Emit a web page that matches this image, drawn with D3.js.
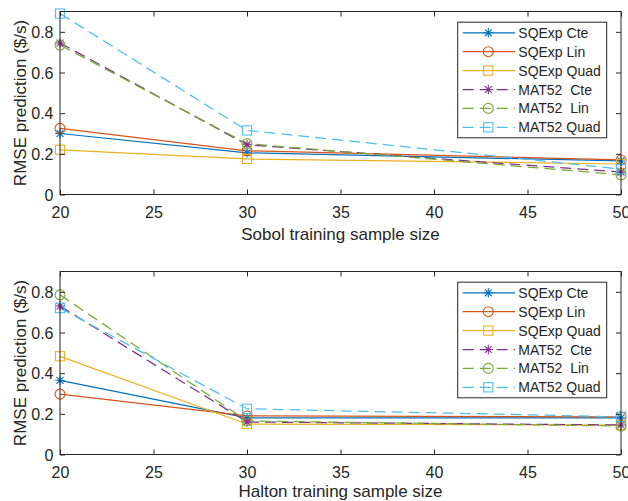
<!DOCTYPE html>
<html>
<head>
<meta charset="utf-8">
<script src="https://cdn.jsdelivr.net/npm/d3@7"></script>
<style>
  html, body { margin: 0; padding: 0; background: #fff; }
  svg { display: block; font-family: "Liberation Sans", Arial, Helvetica, sans-serif; }
</style>
</head>
<body>
<svg id="chart" width="628" height="501"></svg>
<script>
// Training sample sizes on the x axis
const sampleSizes = [20, 30, 50];
const xTicks = [20, 25, 30, 35, 40, 45, 50];
const yTicks = [0, 0.2, 0.4, 0.6, 0.8];

// Legend names (kernel + basis)
const seriesNames = ["SQExp Cte", "SQExp Lin", "SQExp Quad", "MAT52  Cte", "MAT52  Lin", "MAT52 Quad"];

// RMSE of prediction ($/s), Sobol design
const sobolSqexpCte  = [0.300, 0.205, 0.165];
const sobolSqexpLin  = [0.325, 0.215, 0.170];
const sobolSqexpQuad = [0.220, 0.175, 0.150];
const sobolMat52Cte  = [0.745, 0.245, 0.110];
const sobolMat52Lin  = [0.735, 0.250, 0.097];
const sobolMat52Quad = [0.890, 0.315, 0.125];

// RMSE of prediction ($/s), Halton design
const haltonSqexpCte  = [0.365, 0.180, 0.180];
const haltonSqexpLin  = [0.297, 0.190, 0.185];
const haltonSqexpQuad = [0.483, 0.150, 0.145];
const haltonMat52Cte  = [0.730, 0.160, 0.145];
const haltonMat52Lin  = [0.785, 0.165, 0.140];
const haltonMat52Quad = [0.720, 0.225, 0.185];

const panels = [
  { xLabel: "Sobol training sample size", top: 11.5,
    values: [sobolSqexpCte, sobolSqexpLin, sobolSqexpQuad, sobolMat52Cte, sobolMat52Lin, sobolMat52Quad],
    xLabelOffset: 45 },
  { xLabel: "Halton training sample size", top: 271.5,
    values: [haltonSqexpCte, haltonSqexpLin, haltonSqexpQuad, haltonMat52Cte, haltonMat52Lin, haltonMat52Quad],
    xLabelOffset: 42.5 }
];

// Line styling per series
const colors  = ["#0072BD", "#D95319", "#EDB120", "#7E2F8E", "#77AC30", "#4DBEEE"];
const markers = ["star", "circle", "square", "star", "circle", "square"];
const dashed  = [false, false, false, true, true, true];
const dashPattern = "11,6";

const axisColor = "#262626";
const left = 60, right = 621, plotH = 183;

const svg = d3.select("#chart");

function drawMarker(g, type, cx, cy, color) {
  if (type === "circle") {
    g.append("circle").attr("cx", cx).attr("cy", cy).attr("r", 5)
      .attr("fill", "none").attr("stroke", color).attr("stroke-width", 1.1);
  } else if (type === "square") {
    const h = 4.6;
    g.append("rect").attr("x", cx - h).attr("y", cy - h).attr("width", 2 * h).attr("height", 2 * h)
      .attr("fill", "none").attr("stroke", color).attr("stroke-width", 1.1);
  } else {
    const r = 4.8, d = r * 0.72;
    const p = `M${cx - r},${cy}L${cx + r},${cy}M${cx},${cy - r}L${cx},${cy + r}` +
              `M${cx - d},${cy - d}L${cx + d},${cy + d}M${cx - d},${cy + d}L${cx + d},${cy - d}`;
    g.append("path").attr("d", p).attr("fill", "none").attr("stroke", color).attr("stroke-width", 1.1);
  }
}

panels.forEach(panel => {
  const top = panel.top, bottom = top + plotH;
  const x = d3.scaleLinear().domain([20, 50]).range([left, right]);
  const y = d3.scaleLinear().domain([0, 0.9]).range([bottom, top]);
  const g = svg.append("g");

  // Data lines
  const line = d3.line().x((d, i) => x(sampleSizes[i])).y(d => y(d));
  panel.values.forEach((vals, s) => {
    g.append("path").datum(vals).attr("d", line)
      .attr("fill", "none").attr("stroke", colors[s]).attr("stroke-width", 1.25)
      .attr("stroke-dasharray", dashed[s] ? dashPattern : null);
  });
  panel.values.forEach((vals, s) => {
    vals.forEach((v, i) => drawMarker(g, markers[s], x(sampleSizes[i]), y(v), colors[s]));
  });

  // Axes with inward ticks, mirrored on top and right
  const tickLen = 5;
  const ax = g.append("g").attr("transform", `translate(0,${bottom})`)
    .call(d3.axisBottom(x).tickValues(xTicks).tickSizeInner(-tickLen).tickSizeOuter(0).tickFormat(d3.format("d")));
  ax.selectAll("text").attr("y", 23).attr("dy", null).attr("font-size", 16).attr("fill", axisColor);
  g.append("g").attr("transform", `translate(0,${top})`)
    .call(d3.axisTop(x).tickValues(xTicks).tickSizeInner(-tickLen).tickSizeOuter(0).tickFormat(""));
  const ay = g.append("g").attr("transform", `translate(${left},0)`)
    .call(d3.axisLeft(y).tickValues(yTicks).tickSizeInner(-tickLen).tickSizeOuter(0).tickFormat(d => d === 0 ? "0" : d3.format(".1f")(d)));
  ay.selectAll("text").attr("x", -6.5).attr("dy", "0.36em").attr("font-size", 16).attr("fill", axisColor);
  g.append("g").attr("transform", `translate(${right},0)`)
    .call(d3.axisRight(y).tickValues(yTicks).tickSizeInner(-tickLen).tickSizeOuter(0).tickFormat(""));
  g.selectAll(".domain").remove();
  g.selectAll(".tick line").attr("stroke", axisColor).attr("stroke-width", 1);
  g.selectAll("text").attr("font-family", null);

  // Box
  g.append("rect").attr("x", left).attr("y", top).attr("width", right - left).attr("height", plotH)
    .attr("fill", "none").attr("stroke", axisColor).attr("stroke-width", 1);

  // Axis titles
  g.append("text").attr("x", (left + right) / 2).attr("y", bottom + panel.xLabelOffset)
    .attr("text-anchor", "middle").attr("font-size", 17).attr("fill", axisColor)
    .text(panel.xLabel);
  g.append("text").attr("transform", `translate(25.5,${(top + bottom) / 2}) rotate(-90)`)
    .attr("text-anchor", "middle").attr("font-size", 17).attr("fill", axisColor)
    .text("RMSE prediction ($/s)");

  // Legend
  const lx = 457.7, ly = top + 10.7, lw = 149, lh = 115.6, rowH = 18.9;
  const lg = g.append("g");
  lg.append("rect").attr("x", lx).attr("y", ly).attr("width", lw).attr("height", lh)
    .attr("fill", "#fff").attr("stroke", axisColor).attr("stroke-width", 1);
  seriesNames.forEach((name, s) => {
    const cy = ly + 10.6 + s * rowH;
    lg.append("line").attr("x1", lx + 5).attr("x2", lx + 57.3).attr("y1", cy).attr("y2", cy)
      .attr("stroke", colors[s]).attr("stroke-width", 1.25)
      .attr("stroke-dasharray", dashed[s] ? dashPattern : null);
    drawMarker(lg, markers[s], lx + 30.6, cy, colors[s]);
    lg.append("text").attr("x", lx + 60.6).attr("y", cy).attr("dy", "0.36em")
      .attr("font-size", 14).attr("fill", axisColor).style("white-space", "pre")
      .text(name);
  });
});
</script>
</body>
</html>
